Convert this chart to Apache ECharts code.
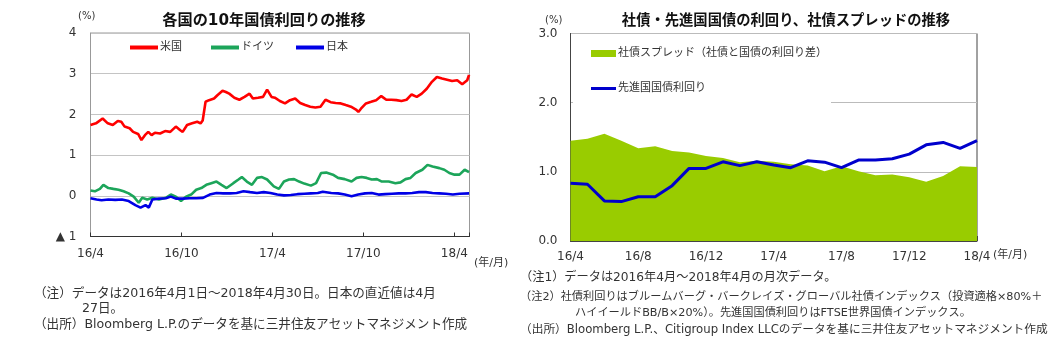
<!DOCTYPE html>
<html>
<head>
<meta charset="utf-8">
<script src="https://cdn.jsdelivr.net/npm/echarts@6/dist/echarts.min.js"></script>
<style>
html,body{margin:0;padding:0;background:#fff;}
#main{width:1059px;height:347px;}
</style>
</head>
<body>
<div id="main"></div>
<script>
// ---------- Left chart: 10-year government bond yields (x = months since 2016/4/1) ----------
const usX = [0,0.36,0.80,1.14,1.47,1.80,2.03,2.25,2.58,2.81,3.14,3.36,3.59,3.81,4.03,4.25,4.59,4.92,5.26,5.63,5.92,6.08,6.37,6.70,7.04,7.26,7.40,7.59,7.82,8.15,8.37,8.71,8.93,9.15,9.49,9.82,10.16,10.49,10.71,11.05,11.38,11.65,11.94,12.16,12.49,12.83,13.16,13.50,13.83,14.16,14.50,14.83,15.17,15.50,15.84,16.17,16.51,16.84,17.18,17.51,17.67,17.84,18.17,18.51,18.84,19.18,19.51,19.84,20.18,20.51,20.85,21.18,21.52,21.85,22.18,22.52,22.85,23.19,23.52,23.85,24.19,24.52,24.85,24.97];
const usY = [1.74,1.78,1.90,1.78,1.74,1.84,1.82,1.70,1.66,1.57,1.52,1.37,1.49,1.57,1.49,1.55,1.53,1.59,1.57,1.70,1.61,1.57,1.74,1.78,1.82,1.78,1.85,2.31,2.35,2.39,2.47,2.58,2.55,2.51,2.41,2.36,2.43,2.51,2.39,2.41,2.43,2.61,2.43,2.41,2.33,2.27,2.35,2.39,2.28,2.23,2.19,2.17,2.19,2.36,2.30,2.28,2.27,2.23,2.19,2.12,2.06,2.14,2.27,2.31,2.35,2.45,2.36,2.36,2.35,2.33,2.36,2.49,2.43,2.51,2.63,2.80,2.92,2.88,2.85,2.82,2.84,2.74,2.84,2.97];

const deX = [0,0.29,0.62,0.85,1.18,1.51,1.85,2.18,2.52,2.85,3.18,3.41,3.74,4.08,4.52,4.97,5.30,5.63,5.97,6.30,6.64,6.97,7.31,7.64,7.97,8.31,8.64,8.98,9.42,9.76,9.98,10.31,10.65,10.98,11.31,11.65,12.09,12.43,12.76,13.10,13.43,13.76,14.10,14.54,14.88,15.21,15.55,15.99,16.33,16.77,17.22,17.55,17.88,18.22,18.55,18.89,19.22,19.67,20.11,20.45,20.78,21.11,21.45,21.89,22.23,22.56,23.01,23.34,23.67,24.01,24.34,24.68,24.97];
const deY = [0.13,0.11,0.17,0.27,0.19,0.17,0.15,0.11,0.06,-0.02,-0.17,-0.05,-0.09,-0.05,-0.09,-0.05,0.03,-0.02,-0.13,-0.02,0.03,0.15,0.19,0.27,0.31,0.35,0.27,0.19,0.31,0.40,0.46,0.35,0.27,0.44,0.46,0.40,0.23,0.17,0.35,0.40,0.41,0.35,0.30,0.25,0.31,0.56,0.57,0.52,0.44,0.41,0.35,0.44,0.46,0.44,0.40,0.41,0.35,0.35,0.31,0.33,0.41,0.44,0.56,0.64,0.76,0.72,0.68,0.64,0.56,0.52,0.52,0.64,0.58];

const jpX = [0,0.40,0.73,1.18,1.63,2.07,2.52,2.96,3.30,3.63,3.85,4.08,4.52,4.97,5.30,5.63,6.08,6.53,6.97,7.42,7.86,8.31,8.75,9.20,9.64,10.09,10.53,10.98,11.43,11.87,12.32,12.76,13.21,13.65,14.10,14.54,14.99,15.32,15.88,16.33,16.77,17.22,17.66,18.11,18.55,19.00,19.44,19.89,20.33,20.78,21.22,21.67,22.12,22.56,23.01,23.45,23.90,24.34,24.97];
const jpY = [-0.06,-0.09,-0.11,-0.09,-0.10,-0.09,-0.13,-0.23,-0.29,-0.23,-0.29,-0.09,-0.07,-0.06,-0.02,-0.07,-0.07,-0.06,-0.06,-0.05,0.03,0.07,0.06,0.06,0.07,0.11,0.09,0.07,0.09,0.07,0.03,0.01,0.02,0.04,0.05,0.06,0.07,0.10,0.07,0.06,0.03,-0.01,0.03,0.06,0.07,0.03,0.04,0.05,0.06,0.06,0.07,0.09,0.09,0.07,0.06,0.05,0.03,0.05,0.06];

const leftTickLabels = {0:'16/4', 6:'16/10', 12:'17/4', 18:'17/10', 24:'18/4'};
const leftNames = ['米国','ドイツ','日本'];

// ---------- Right chart: monthly data ----------
const months = ['16/4','16/5','16/6','16/7','16/8','16/9','16/10','16/11','16/12','17/1','17/2','17/3','17/4','17/5','17/6','17/7','17/8','17/9','17/10','17/11','17/12','18/1','18/2','18/3','18/4'];
const spread = [1.45,1.48,1.55,1.45,1.34,1.37,1.30,1.28,1.23,1.20,1.14,1.16,1.145,1.11,1.09,1.01,1.08,1.01,0.95,0.96,0.92,0.855,0.94,1.08,1.07];
const govYield = [0.836,0.82,0.58,0.57,0.64,0.64,0.80,1.05,1.05,1.145,1.09,1.145,1.10,1.06,1.16,1.14,1.06,1.17,1.17,1.19,1.256,1.39,1.425,1.34,1.45];
const rightNames = ['社債スプレッド（社債と国債の利回り差）','先進国国債利回り'];

const zip = (xs, ys) => xs.map((x, i) => [x, ys[i]]);

const FF = '"DejaVu Sans", "Noto Sans CJK JP", sans-serif';
const TXT = '#333';
const LEFT_COLORS = ['#ff0000', '#1ca55a', '#0000e6'];

const chart = echarts.init(document.getElementById('main'), null, {renderer: 'canvas'});

const note = (x, y, size, text) => ({
  type: 'text', left: x, top: y,
  style: {text: text, font: size + 'px ' + FF, fill: TXT}
});

const leftLegend = (i, x) => ({
  data: [{name: leftNames[i], icon: 'path://M0,0H28V4H0Z'}],
  left: x, top: 42, padding: 0, itemWidth: 28, itemHeight: 4,
  textStyle: {fontFamily: FF, fontSize: 11, color: TXT, padding: [0, 0, 0, -3]}
});

chart.setOption({
  animation: false,
  backgroundColor: '#fff',
  textStyle: {fontFamily: FF},
  grid: [
    {left: 90.5, top: 33, width: 379, height: 203.5, show: true, borderColor: '#999', borderWidth: 1},
    {left: 570.5, top: 33.5, width: 406.5, height: 207.5, show: true, borderColor: '#444', borderWidth: 1}
  ],
  title: [
    {text: '各国の10年国債利回りの推移', left: 259, textAlign: 'center', top: 8,
     textStyle: {fontFamily: FF, fontSize: 15.2, fontWeight: 'bold', color: '#111'}},
    {text: '社債・先進国国債の利回り、社債スプレッドの推移', left: 781, textAlign: 'center', top: 9,
     textStyle: {fontFamily: FF, fontSize: 14.3, fontWeight: 'bold', color: '#111'}}
  ],
  legend: [
    leftLegend(0, 130),
    leftLegend(1, 211),
    leftLegend(2, 296),
    {data: [{name: rightNames[0], icon: 'rect'}, {name: rightNames[1], icon: 'path://M0,0H25V3H0Z'}],
     orient: 'vertical', left: 573, top: 41, padding: [7, 4, 10, 18], itemGap: 24,
     itemWidth: 25, itemHeight: 7, backgroundColor: '#fff',
     textStyle: {fontFamily: FF, fontSize: 11, color: TXT, padding: [0, 0, 0, -3]}}
  ],
  xAxis: [
    {type: 'value', gridIndex: 0, min: 0, max: 25, interval: 6,
     axisLine: {show: true, onZero: false, lineStyle: {color: '#333'}},
     axisTick: {show: true, inside: true, length: 4, lineStyle: {color: '#333'}},
     splitLine: {show: false},
     axisLabel: {fontFamily: FF, fontSize: 12, color: TXT, margin: 11,
       formatter: v => leftTickLabels[v] || ''}},
    {type: 'category', gridIndex: 1, data: months, boundaryGap: false,
     axisLine: {show: true, lineStyle: {color: '#444'}},
     axisTick: {show: true, inside: true, length: 5, interval: 3, lineStyle: {color: '#444'}},
     axisLabel: {interval: 3, fontFamily: FF, fontSize: 12, color: TXT, margin: 10}}
  ],
  yAxis: [
    {type: 'value', gridIndex: 0, min: -1, max: 4, interval: 1,
     axisLine: {show: true, lineStyle: {color: '#999'}},
     axisTick: {show: false},
     splitLine: {show: true, lineStyle: {color: '#c4c4c4'}},
     axisLabel: {fontFamily: FF, fontSize: 12, color: TXT, margin: 14,
       formatter: v => v < 0 ? '▲ ' + Math.abs(v) : String(v)}},
    {type: 'value', gridIndex: 1, min: 0, max: 3, interval: 1,
     axisLine: {show: true, lineStyle: {color: '#444'}},
     axisTick: {show: false},
     splitLine: {show: true, lineStyle: {color: '#bbb'}},
     axisLabel: {fontFamily: FF, fontSize: 12, color: TXT, margin: 13,
       formatter: v => v.toFixed(1)}}
  ],
  series: [
    {name: leftNames[0], type: 'line', xAxisIndex: 0, yAxisIndex: 0, data: zip(usX, usY),
     symbol: 'none', color: LEFT_COLORS[0], lineStyle: {width: 2.6, color: LEFT_COLORS[0]}},
    {name: leftNames[1], type: 'line', xAxisIndex: 0, yAxisIndex: 0, data: zip(deX, deY),
     symbol: 'none', color: LEFT_COLORS[1], lineStyle: {width: 2.6, color: LEFT_COLORS[1]}},
    {name: leftNames[2], type: 'line', xAxisIndex: 0, yAxisIndex: 0, data: zip(jpX, jpY),
     symbol: 'none', color: LEFT_COLORS[2], lineStyle: {width: 2.6, color: LEFT_COLORS[2]}},
    {name: rightNames[0], type: 'line', xAxisIndex: 1, yAxisIndex: 1, data: spread,
     symbol: 'none', color: '#99cc00', lineStyle: {width: 0},
     areaStyle: {color: '#99cc00', opacity: 1}},
    {name: rightNames[1], type: 'line', xAxisIndex: 1, yAxisIndex: 1, data: govYield,
     symbol: 'none', color: '#0000cc', lineStyle: {width: 3, color: '#0000cc'}, z: 5}
  ],
  graphic: [
    {type: 'text', left: 78, top: 11, style: {text: '(%)', font: '10px ' + FF, fill: TXT}},
    {type: 'text', left: 545, top: 15, style: {text: '(%)', font: '10px ' + FF, fill: TXT}},
    {type: 'text', left: 474, top: 258, style: {text: '(年/月)', font: '11px ' + FF, fill: TXT}},
    {type: 'text', left: 993, top: 250, style: {text: '(年/月)', font: '11px ' + FF, fill: TXT}},
    note(34, 287, 12.6, '（注）データは2016年4月1日～2018年4月30日。日本の直近値は4月'),
    note(82, 302, 12.6, '27日。'),
    note(34, 318, 12.6, '（出所）Bloomberg L.P.のデータを基に三井住友アセットマネジメント作成'),
    note(520, 272, 12.2, '（注1）データは2016年4月～2018年4月の月次データ。'),
    note(520, 291, 11.2, '（注2）社債利回りはブルームバーグ・バークレイズ・グローバル社債インデックス（投資適格×80%＋'),
    note(575, 307, 11.2, 'ハイイールドBB/B×20%）。先進国国債利回りはFTSE世界国債インデックス。'),
    note(520, 324, 11.7, '（出所）Bloomberg L.P.、Citigroup Index LLCのデータを基に三井住友アセットマネジメント作成')
  ]
});
</script>
</body>
</html>
